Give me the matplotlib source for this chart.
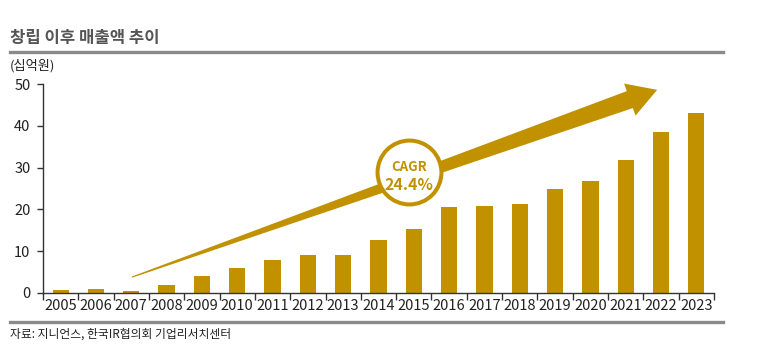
import numpy as np
import matplotlib.pyplot as plt
from matplotlib.patches import Polygon
from matplotlib.lines import Line2D

plt.rcParams['font.family'] = ['Noto Sans CJK KR', 'DejaVu Sans']

years = [str(y) for y in range(2005, 2024)]
sales = [0.8, 1.0, 0.5, 2.0, 4.0, 6.0, 8.0, 9.0, 9.0, 12.7, 15.4,
         20.6, 20.8, 21.4, 24.9, 26.9, 31.9, 38.5, 43.0]
cagr_label = '24.4%'

gold = '#C29100'

fig = plt.figure(figsize=(7.64, 3.6), dpi=100)
ax = fig.add_axes([43/764, 1-293/360, (714-43)/764, (293-84)/360])

x = np.arange(len(years))
ax.bar(x, sales, width=0.46, color=gold, zorder=2)

ax.set_xlim(-0.5, len(years)-0.5)
ax.set_ylim(0, 50)
ax.set_yticks([0, 10, 20, 30, 40, 50])
ax.set_xticks(x)
ax.set_xticklabels(years)
ax.set_xticks(np.arange(-0.5, len(years)), minor=True)
ax.tick_params(axis='x', which='major', length=0, pad=4, labelsize=10.5, colors='#222222')
ax.tick_params(axis='x', which='minor', length=5, width=1, color='#333333')
ax.tick_params(axis='y', length=4, width=1, color='#333333', labelsize=10.5,
               labelcolor='#222222', pad=5)
for s in ['top', 'right']:
    ax.spines[s].set_visible(False)
for s in ['left', 'bottom']:
    ax.spines[s].set_color('#333333')
    ax.spines[s].set_linewidth(1)

# tapered growth arrow, built in pixel space then mapped back to data
tail = ax.transData.transform((2.02, 3.8))
tip = ax.transData.transform((16.89, 48.6))
d = tip - tail
L = np.hypot(*d)
u = d / L
n = np.array([-u[1], u[0]])
head_len, head_hw, shaft_hw, tail_hw = 29, 17, 9, 0.6
base = tip - u * head_len
pts = np.array([
    tail + n * tail_hw,
    base + n * shaft_hw,
    base + n * head_hw,
    tip,
    base - n * head_hw,
    base - n * shaft_hw,
    tail - n * tail_hw,
])
pts = ax.transData.inverted().transform(pts)
ax.add_patch(Polygon(pts, closed=True, facecolor=gold, edgecolor='none',
                     zorder=3, clip_on=False))

# CAGR badge
cx, cy = 9.87, 28.9
ax.scatter([cx], [cy], s=2116, facecolor='white', edgecolor=gold,
           linewidth=2.9, zorder=4, clip_on=False)
ax.text(cx, cy+1.2, 'CAGR', ha='center', va='center', fontsize=9.5,
        fontweight='bold', color=gold, zorder=5)
ax.text(cx, cy-3.0, cagr_label, ha='center', va='center', fontsize=11.5,
        fontweight='bold', color=gold, zorder=5)

# title, unit and source
fig.text(10/764, 1-38/360, '창립 이후 매출액 추이', fontsize=12, fontweight='bold',
         color='#555555', ha='left', va='center')
fig.add_artist(Line2D([10/764, 723/764], [1-52/360, 1-52/360], color='#8a8a8a', lw=2.4))
fig.text(10/764, 1-66/360, '(십억원)', fontsize=9.5, color='#222222', ha='left', va='center')
fig.add_artist(Line2D([10/764, 723/764], [1-322/360, 1-322/360], color='#8a8a8a', lw=2.4))
fig.text(10/764, 1-334/360, '자료: 지니언스, 한국IR협의회 기업리서치센터', fontsize=8.5,
         color='#222222', ha='left', va='center')

fig.savefig('out.png', dpi=100)
